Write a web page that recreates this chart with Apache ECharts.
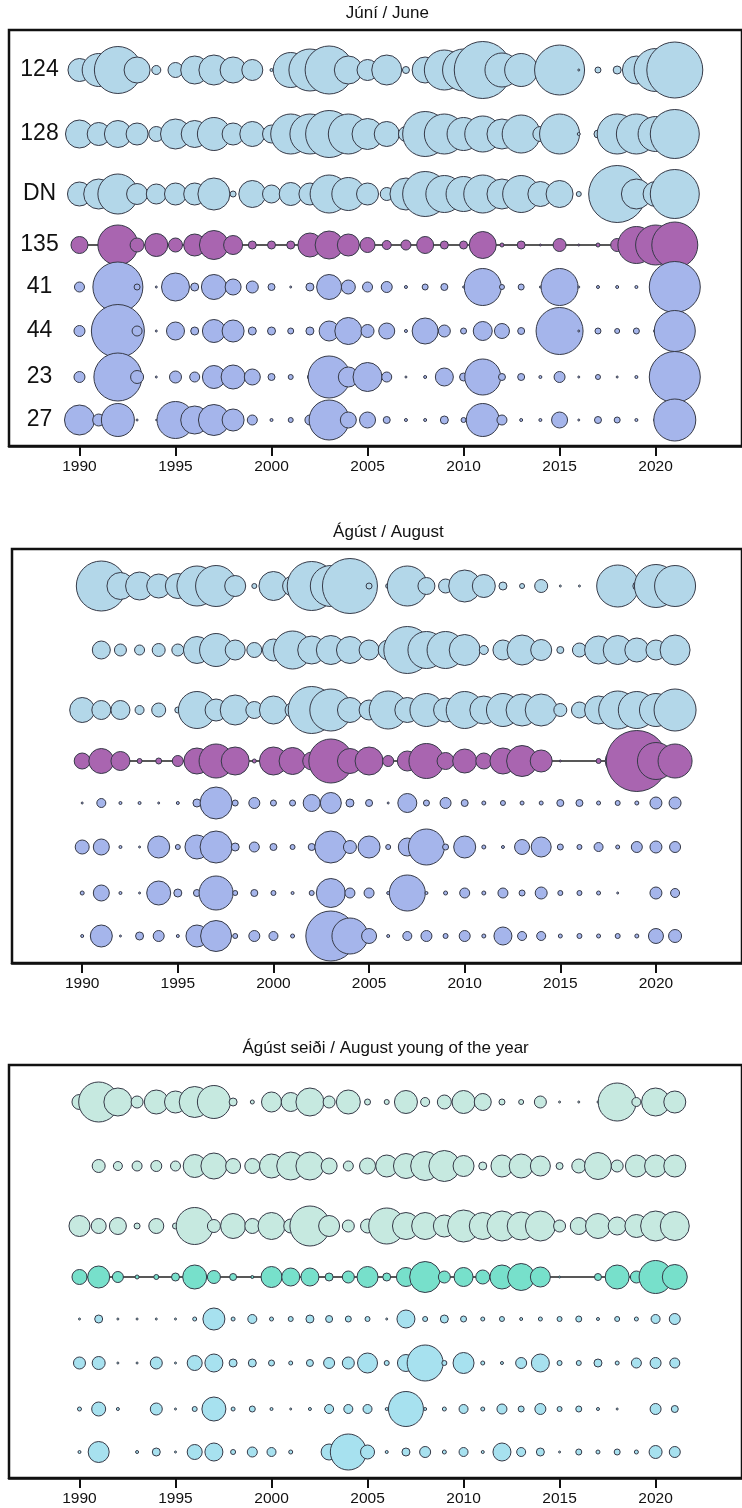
<!DOCTYPE html>
<html>
<head>
<meta charset="utf-8">
<script src="https://cdn.jsdelivr.net/npm/echarts@6/dist/echarts.min.js"></script>
<style>
  html, body { margin: 0; padding: 0; background: #fff; }
  #chart { width: 742px; height: 1508px; }
</style>
</head>
<body>
<div id="chart"></div>
<script>
// Survey years and stations (rows, top to bottom)
const years = [1990,1991,1992,1993,1994,1995,1996,1997,1998,1999,2000,2001,2002,2003,2004,2005,
               2006,2007,2008,2009,2010,2011,2012,2013,2014,2015,2016,2017,2018,2019,2020,2021];
const stations = ['124', '128', 'DN', '135', '41', '44', '23', '27'];
const tickYears = [1990, 1995, 2000, 2005, 2010, 2015, 2020];

// Abundance index per station and year — June survey
const june124 = [5.29,10.89,22.09,6.76,0.81,2.25,7.84,9,6.76,4.41,0.09,12.25,17.64,23.04,7.84,4.41,9,0.49,6.76,16,17.64,32.49,11.56,10.89,0.04,25,0.04,0.36,0.64,7.84,18.49,31.36];
const june128 = [7.84,5.29,7.29,4.84,2.25,9,7.29,10.89,4.84,6.25,3.24,16,16,22.09,16,9.61,6.25,2.25,20.25,16,10.89,12.96,9,14.44,2.25,16,0.09,0.64,16,16,12.25,24.01];
const juneDN  = [5.76,9,16,4.41,4,4.84,4.84,10.24,0.36,7.29,3.24,5.29,4.84,14.44,10.89,4.84,1.69,10.24,20.25,13.69,12.25,14.44,9,13.69,6.25,7.29,0.25,0,32.49,9,6.25,24.01];
const june135 = [2.89,0.04,16,1.96,5.29,1.96,4.84,8.41,3.61,0.64,0.64,0.64,5.76,7.84,4.84,2.25,0.81,1,2.89,0.64,0.64,7.29,0.16,0.64,0.04,1.69,0.04,0.16,1.69,13.69,16,21.16];
const june41  = [1,0,25,0.36,0.04,7.84,0.64,6.25,2.56,1.44,0.49,0.04,0.64,6.25,1.96,1,1.21,0.09,0.36,0.49,0.04,13.69,0.25,0.36,0.04,13.69,0.04,0.09,0.09,0.09,0,26.01];
const june44  = [1.21,0,28.09,1,0.04,3.24,0.64,5.29,4.84,0.64,0.64,0.36,0.64,4,7.29,1.69,2.56,0.09,6.76,1.44,0.36,3.61,2.25,0.49,0,22.09,0.04,0.36,0.25,0.36,0.16,16.81];
const june23  = [1.21,0,23.04,1.69,0.04,1.44,1,5.29,5.76,2.56,0.49,0.25,0.25,17.64,4,8.41,1,0.04,0.09,3.24,0.64,12.96,0.49,0.49,0.09,1.21,0.04,0.25,0.04,0.09,0,26.01];
const june27  = [9,1.44,10.89,0.04,0.02,13.69,7.84,9.61,4.84,1,0.09,0.25,1,16,2.56,2.56,0.49,0.09,0.09,0.64,0.25,10.89,1,0.09,0.09,2.56,0.04,0.49,0.36,0.09,0.16,17.64];

// August survey
const aug124 = [0.09,25,7.29,7.84,5.76,6.25,16,16.81,4.41,0.25,8.41,4,24.01,16.81,30.25,0.36,0.25,16,2.89,1.96,10.24,5.29,0.64,0.25,1.69,0.04,0.04,0,17.64,0.64,18.49,16.81];
const aug128 = [0,3.24,1.44,1,1.69,1.44,7.29,10.89,4,2.25,4.84,14.44,7.84,8.41,7.29,4,4,22.09,13.69,13.69,9.61,0.81,4,9,4.41,0.49,1.96,7.84,8.41,5.76,4,9];
const augDN  = [6.25,3.61,3.61,0.81,1.96,0.36,13.69,4.84,9,2.89,7.84,2.25,22.09,17.64,6.25,4,14.44,6.25,10.89,5.76,13.69,7.84,10.89,10.24,10.24,1.69,2.56,7.84,14.44,13.69,10.89,17.64];
const aug135 = [2.56,6.25,3.61,0.25,0.36,1.21,6.76,11.56,7.84,0.16,7.84,7.29,3.24,19.36,6.25,7.84,1.21,4,12.25,2.89,5.76,2.56,6.76,9.61,4.84,0.04,0,0.25,6.25,37.21,13.69,11.56];
const aug41  = [0.04,0.81,0.09,0.09,0.04,0.09,0.64,10.24,0.36,1.21,0.36,0.36,2.89,4.41,0.64,0.49,0.04,3.61,0.36,1.21,0.49,0.16,0.25,0.16,0.16,0.49,0.49,0.16,0.25,0.16,1.44,1.44];
const aug44  = [1.96,2.56,0.09,0.04,4.84,0.25,5.76,10.24,0.64,1,0.49,0.25,0.49,10.24,1.69,4.84,0.25,3.24,12.96,0.36,4.84,0.16,0.09,2.25,4,0.36,0.25,0.81,0.16,1.21,1.44,1.21];
const aug23  = [0.16,2.56,0.09,0.04,5.76,0.64,0.49,11.56,0.25,0.49,0.25,0.09,0.25,8.41,1,1,0.09,12.96,0.09,0.16,1,0.16,1,0.36,1.44,0.25,0.25,0.16,0.04,0,1.44,0.81];
const aug27  = [0.09,4.84,0.04,0.64,1.21,0.09,4.84,9.61,0.25,1.21,0.81,0.16,0.64,25,12.96,2.25,0.09,0.81,1.21,0.25,1.21,0.16,3.24,0.81,0.81,0.16,0.25,0.16,0.25,0.16,2.25,1.69];

// August survey, young of the year
const yoy124 = [2.25,16,7.84,1.44,5.76,4.84,9.61,10.89,0.64,0.16,4,3.61,7.84,1.44,5.76,0.36,0.25,5.29,0.81,1.96,5.29,2.89,0.36,0.25,1.44,0.04,0.04,0.04,14.44,0.81,7.84,4.84];
const yoy128 = [0,1.69,0.81,1,1.21,1,5.29,6.76,2.25,2.25,5.76,7.84,7.84,2.56,1,2.56,4.84,6.25,8.41,9.61,4.41,0.64,4.84,5.76,4,0.49,1.96,7.29,1.44,4.84,4.84,4.84];
const yoyDN  = [4.41,2.25,2.89,0.36,2.25,0.36,13.69,1.69,6.25,2.25,7.29,1.96,16,4.41,1.44,1.96,12.96,7.29,7.29,4.84,10.24,7.29,9,7.84,9,1.44,2.89,6.25,3.24,5.29,9,8.41];
const yoy135 = [2.25,4.84,1.21,0.16,0.25,0.64,5.76,1.69,0.49,0.09,4.41,3.24,3.24,0.64,1.44,4.41,0.64,3.61,9.61,1.44,3.61,1.96,5.76,7.29,4,0.04,0,0.49,5.76,1.44,10.89,6.25];
const yoy41  = [0.04,0.64,0.04,0.04,0.04,0.04,0.16,4.84,0.16,0.81,0.16,0.25,0.64,0.49,0.36,0.25,0.04,3.24,0.25,0.64,0.36,0.16,0.25,0.09,0.16,0.25,0.36,0.09,0.25,0.16,0.81,1.21];
const yoy44  = [1.44,1.69,0.04,0.04,1.44,0.04,2.25,3.24,0.64,0.64,0.36,0.16,0.49,1.21,1.44,4,0.25,2.89,12.96,0.25,4.41,0.16,0.09,1.21,3.24,0.25,0.25,0.64,0.16,1,1.21,1];
const yoy23  = [0.16,1.96,0.09,0,1.44,0.04,0.25,5.76,0.16,0.36,0.09,0.04,0.09,0.81,0.81,0.81,0.09,12.25,0.09,0.16,0.81,0.16,1,0.36,1.21,0.25,0.36,0.09,0.04,0,1.21,0.49];
const yoy27  = [0.09,4.41,0,0.09,0.64,0.04,2.25,3.24,0.25,1,0.81,0.16,0,2.56,12.96,1.96,0.09,0.64,1.21,0.16,0.81,0.09,3.24,0.81,0.64,0.04,0.36,0.16,0.36,0.16,1.69,1.21];

// ---- layout and styling ----
const FONT = 'Liberation Sans, Arial, Helvetica, sans-serif';
const ROW_LEVEL = [0, 64, 124, 175, 217, 261, 307, 350];   // vertical slot of each station row
const LINKED_ROW = 3;                                        // station 135 is joined by a line
const SIZE_SCALE = 10;                                       // bubble diameter per sqrt(index)
const X_MIN = 1986.33, X_MAX = 2024.5;

const adultPalette = ['#b3d7e9', '#b3d7e9', '#b3d7e9', '#a965b0', '#a5b5eb', '#a5b5eb', '#a5b5eb', '#a5b5eb'];
const youngPalette = ['#c6e9e0', '#c6e9e0', '#c6e9e0', '#77e0cb', '#a7e1ef', '#a7e1ef', '#a7e1ef', '#a7e1ef'];

const panels = [
  { title: 'Júní / June', rows: [june124, june128, juneDN, june135, june41, june44, june23, june27],
    palette: adultPalette, grid: { left: 9, top: 30, width: 746.6, height: 416 }, yMin: -40, yMax: 376, showStations: true },
  { title: 'Ágúst / August', rows: [aug124, aug128, augDN, aug135, aug41, aug44, aug23, aug27],
    palette: adultPalette, grid: { left: 12, top: 549, width: 742.8, height: 414 }, yMin: -37, yMax: 377, showStations: false },
  { title: 'Ágúst seiði / August young of the year', rows: [yoy124, yoy128, yoyDN, yoy135, yoy41, yoy44, yoy23, yoy27],
    palette: youngPalette, grid: { left: 9, top: 1065, width: 743.2, height: 413 }, yMin: -37, yMax: 376, showStations: false }
];

const option = {
  animation: false,
  backgroundColor: '#ffffff',
  title: [], grid: [], xAxis: [], yAxis: [], series: []
};

panels.forEach(function (p, k) {
  option.title.push({
    text: p.title,
    left: p.grid.left + p.grid.width / 2,
    top: p.grid.top - 30,
    textAlign: 'center',
    textStyle: { fontFamily: FONT, fontSize: 17, fontWeight: 'normal', color: '#111' }
  });
  option.grid.push(Object.assign({ show: true, borderColor: '#111', borderWidth: 2.5, backgroundColor: 'transparent' }, p.grid));
  option.xAxis.push({
    type: 'value', gridIndex: k, min: X_MIN, max: X_MAX,
    splitLine: { show: false },
    axisLine: { show: true, onZero: false, lineStyle: { color: '#111', width: 2.5 } },
    axisTick: { show: true, customValues: tickYears, length: 10, lineStyle: { color: '#111', width: 2 } },
    axisLabel: { customValues: tickYears, margin: 12.5, fontFamily: FONT, fontSize: 15.5, color: '#111',
                 formatter: function (v) { return String(v); } }
  });
  option.yAxis.push({
    type: 'value', gridIndex: k, inverse: true, min: p.yMin, max: p.yMax,
    splitLine: { show: false }, axisLine: { show: false }, axisTick: { show: false },
    axisLabel: p.showStations ? {
      show: true, customValues: ROW_LEVEL, inside: true, margin: 30.5, align: 'center',
      fontFamily: FONT, fontSize: 23, color: '#111',
      formatter: function (v) { return stations[ROW_LEVEL.indexOf(v)]; }
    } : { show: false }
  });

  // connecting line behind the station 135 bubbles
  option.series.push({
    type: 'line', xAxisIndex: k, yAxisIndex: k, z: 1, silent: true,
    symbol: 'none', lineStyle: { color: '#222', width: 1.5 },
    data: years.map(function (yr) { return [yr, ROW_LEVEL[LINKED_ROW]]; })
  });

  p.rows.forEach(function (vals, r) {
    option.series.push({
      type: 'scatter', xAxisIndex: k, yAxisIndex: k, z: 2,
      name: stations[r],
      data: years.map(function (yr, i) { return [yr, ROW_LEVEL[r], vals[i]]; }),
      symbolSize: function (d) { return Math.sqrt(d[2]) * SIZE_SCALE; },
      itemStyle: { color: p.palette[r], borderColor: '#363a48', borderWidth: 1, opacity: 1 }
    });
  });
});

const chart = echarts.init(document.getElementById('chart'), null, { renderer: 'canvas' });
chart.setOption(option);
</script>
</body>
</html>
